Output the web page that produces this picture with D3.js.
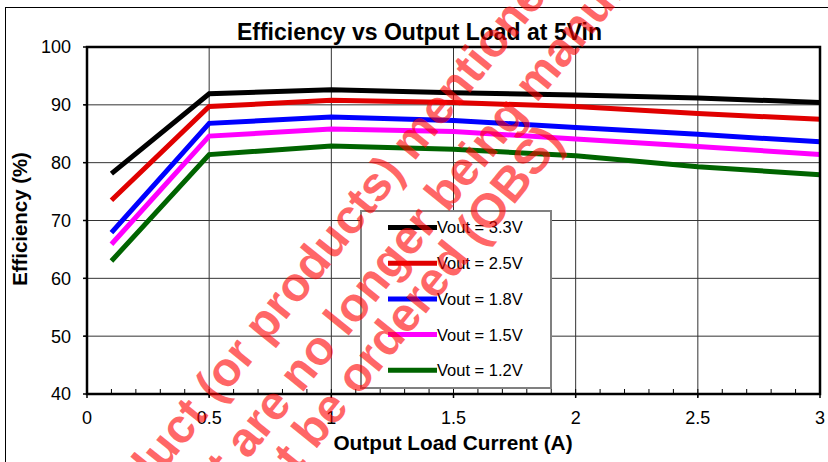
<!DOCTYPE html>
<html>
<head>
<meta charset="utf-8">
<script src="https://cdn.jsdelivr.net/npm/d3@7"></script>
<style>
  html, body { margin: 0; padding: 0; background: #fff; }
  svg { display: block; }
  text { font-family: "Liberation Sans", Arial, Helvetica, sans-serif; }
</style>
</head>
<body>
<svg id="chart" width="828" height="462"></svg>
<script>
// ---- data ----
const loadCurrent = [0.1, 0.5, 1.0, 1.5, 2.0, 2.5, 3.0];
const seriesNames = ["Vout = 3.3V", "Vout = 2.5V", "Vout = 1.8V", "Vout = 1.5V", "Vout = 1.2V"];
const eff33 = [78.1, 91.9, 92.6, 92.1, 91.7, 91.2, 90.4];
const eff25 = [73.5, 89.7, 90.8, 90.4, 89.7, 88.5, 87.5];
const eff18 = [67.9, 86.8, 87.9, 87.3, 86.1, 84.9, 83.6];
const eff15 = [65.9, 84.6, 85.8, 85.4, 84.1, 82.8, 81.4];
const eff12 = [63.0, 81.4, 82.9, 82.3, 81.2, 79.3, 77.9];
const seriesColors = ["#000000", "#e00000", "#0000ff", "#ff00ff", "#006400"];
const xTicks = [0, 0.5, 1, 1.5, 2, 2.5, 3];
const yTicks = [40, 50, 60, 70, 80, 90, 100];
const titleText = "Efficiency vs Output Load at 5Vin";
const xTitle = "Output Load Current (A)";
const yTitle = "Efficiency (%)";
const watermarkLines = ["Product (or products) mentioned", "that are no longer being manufactured", "and cannot be ordered (OBS)"];

const allSeries = [eff33, eff25, eff18, eff15, eff12];

// ---- layout ----
const svg = d3.select("#chart");
const L = 87, R = 820, T = 47, B = 394;
const x = d3.scaleLinear().domain([0, 3]).range([L, R]);
const y = d3.scaleLinear().domain([40, 100]).range([B, T]);

// outer frame
svg.append("rect").attr("x", 5.5).attr("y", 7.5).attr("width", 900).attr("height", 900)
  .attr("fill", "none").attr("stroke", "#000").attr("stroke-width", 1);

// gridlines
svg.append("g").selectAll("line").data(yTicks.filter(d => d > 40 && d < 100)).join("line")
  .attr("x1", L - 3).attr("x2", R).attr("y1", d => y(d)).attr("y2", d => y(d))
  .attr("stroke", "#333").attr("stroke-width", 1);
svg.append("g").selectAll("line").data(xTicks.filter(d => d > 0 && d < 3)).join("line")
  .attr("x1", d => x(d)).attr("x2", d => x(d)).attr("y1", T).attr("y2", B + 3)
  .attr("stroke", "#333").attr("stroke-width", 1);

// minor ticks on x axis (inside)
const minor = d3.range(1, 30).map(i => i / 10);
svg.append("g").selectAll("line").data(minor).join("line")
  .attr("x1", d => x(d)).attr("x2", d => x(d)).attr("y1", B - 5).attr("y2", B)
  .attr("stroke", "#000").attr("stroke-width", 1);
// major ticks outside
svg.append("g").selectAll("line").data(xTicks).join("line")
  .attr("x1", d => x(d)).attr("x2", d => x(d)).attr("y1", B).attr("y2", B + 4)
  .attr("stroke", "#000").attr("stroke-width", 1.5);
svg.append("g").selectAll("line").data(yTicks).join("line")
  .attr("x1", L - 4).attr("x2", L).attr("y1", d => y(d)).attr("y2", d => y(d))
  .attr("stroke", "#000").attr("stroke-width", 1.5);

// legend box (over gridlines)
const lg = svg.append("g");
lg.append("rect").attr("x", 361).attr("y", 211).attr("width", 190).attr("height", 177)
  .attr("fill", "#fff").attr("stroke", "#808080").attr("stroke-width", 2);

// series lines
const line = d3.line().x((d, i) => x(loadCurrent[i])).y(d => y(d));
svg.append("g").selectAll("path").data(allSeries).join("path")
  .attr("d", d => line(d))
  .attr("fill", "none")
  .attr("stroke", (d, i) => seriesColors[i])
  .attr("stroke-width", 5)
  .attr("stroke-linejoin", "miter")
  .attr("stroke-linecap", "butt");

// plot border
svg.append("rect").attr("x", L).attr("y", T).attr("width", R - L).attr("height", B - T)
  .attr("fill", "none").attr("stroke", "#000").attr("stroke-width", 2.5);

// legend entries
seriesNames.forEach((name, i) => {
  const yy = 227.5 + i * 35.7;
  lg.append("line").attr("x1", 388).attr("x2", 437).attr("y1", yy).attr("y2", yy)
    .attr("stroke", seriesColors[i]).attr("stroke-width", 5);
  lg.append("text").attr("x", 437).attr("y", yy).attr("dy", "0.36em")
    .attr("font-size", 16.5).attr("fill", "#000").text(name);
});

// tick labels
svg.append("g").selectAll("text").data(yTicks).join("text")
  .attr("x", 71).attr("y", d => y(d)).attr("dy", "0.36em")
  .attr("text-anchor", "end").attr("font-size", 18).text(d => d);
svg.append("g").selectAll("text").data(xTicks).join("text")
  .attr("x", d => x(d)).attr("y", 424)
  .attr("text-anchor", "middle").attr("font-size", 18).text(d => d);

// titles
svg.append("text").attr("x", 419.5).attr("y", 40).attr("text-anchor", "middle")
  .attr("font-size", 23).attr("font-weight", "bold").text(titleText);
svg.append("text").attr("x", 453).attr("y", 450).attr("text-anchor", "middle")
  .attr("font-size", 20.8).attr("font-weight", "bold").text(xTitle);
svg.append("text").attr("transform", "translate(27,219) rotate(-90)").attr("text-anchor", "middle")
  .attr("font-size", 20.4).attr("font-weight", "bold").text(yTitle);

// watermark
const wm = svg.append("g").attr("fill", "#ff0000").attr("fill-opacity", 0.6)
  .attr("font-size", 48).attr("font-weight", "bold");
const wmPos = [
  {x: 95, y: 556, anchor: "start"},
  {x: 184, y: 539, anchor: "start"},
  {x: 565, y: 142, anchor: "end"}
];
watermarkLines.forEach((t, i) => {
  wm.append("text").attr("transform", `translate(${wmPos[i].x},${wmPos[i].y}) rotate(-51)`)
    .attr("text-anchor", wmPos[i].anchor).text(t);
});
</script>
</body>
</html>
